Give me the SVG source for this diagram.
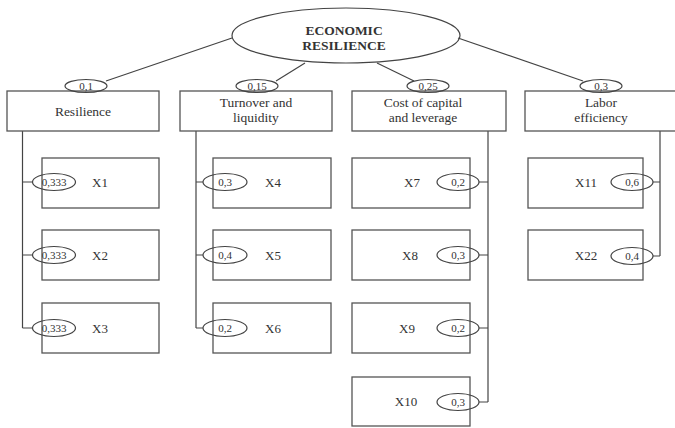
<svg xmlns="http://www.w3.org/2000/svg" width="675" height="428" viewBox="0 0 675 428">
<style>
.b{fill:none;stroke:#555;stroke-width:1.3}
.e{fill:none;stroke:#444;stroke-width:1.2}
.c{fill:none;stroke:#444;stroke-width:1.2}
.t{font-family:"Liberation Serif","Times New Roman",serif;fill:#333;text-anchor:middle}
.h{font-size:13.5px;font-weight:bold}
.n{font-size:13.5px}
.x{font-size:13px}
.w{font-size:11px}
</style>
<rect width="675" height="428" fill="#fff"/>
<g id="connectors">
<line class="c" x1="232" y1="38" x2="106" y2="81"/>
<line class="c" x1="305" y1="63" x2="276" y2="81"/>
<line class="c" x1="377" y1="63" x2="414" y2="81"/>
<line class="c" x1="458" y1="38" x2="583" y2="81"/>
<path class="c" d="M22.5 131V328M22.5 182H32.5M22.5 255H32.5M22.5 328H32.5"/>
<path class="c" d="M196 131V328M196 182H203M196 255H203M196 328H203"/>
<path class="c" d="M488 131V402M479 182H488M479 255H488M479 328H488M479 402H488"/>
<path class="c" d="M660 131V256M653 182H660M653 256H660"/>
</g>
<g id="root">
<ellipse class="e" cx="346" cy="35.5" rx="114" ry="27.5"/>
<text class="t h" x="344" y="34.5">ECONOMIC</text>
<text class="t h" x="344" y="50">RESILIENCE</text>
</g>
<g id="resilience">
<rect class="b" x="7" y="91" width="152" height="40"/>
<ellipse class="e" cx="86" cy="86" rx="21" ry="6.5"/>
<text class="t w" x="86" y="90">0,1</text>
<text class="t n" x="83" y="116">Resilience</text>
</g>
<g id="turnover">
<rect class="b" x="180" y="91" width="152" height="40"/>
<ellipse class="e" cx="257" cy="86" rx="21" ry="6.5"/>
<text class="t w" x="257" y="90">0,15</text>
<text class="t n" x="256" y="107">Turnover and</text>
<text class="t n" x="256" y="122">liquidity</text>
</g>
<g id="capital">
<rect class="b" x="352" y="91" width="154" height="40"/>
<ellipse class="e" cx="428" cy="86" rx="21" ry="6.5"/>
<text class="t w" x="428" y="90">0,25</text>
<text class="t n" x="423" y="107">Cost of capital</text>
<text class="t n" x="423" y="122">and leverage</text>
</g>
<g id="labor">
<rect class="b" x="525" y="91" width="155" height="40"/>
<ellipse class="e" cx="601" cy="86" rx="21" ry="6.5"/>
<text class="t w" x="601" y="90">0,3</text>
<text class="t n" x="601" y="107">Labor</text>
<text class="t n" x="601" y="122">efficiency</text>
</g>
<g id="x1"><rect class="b" x="42" y="158" width="117" height="50"/><ellipse class="e" cx="54" cy="182" rx="21.5" ry="8.5"/><text class="t w" x="54" y="186">0,333</text><text class="t x" x="100" y="187">X1</text></g>
<g id="x2"><rect class="b" x="42" y="230" width="117" height="50"/><ellipse class="e" cx="54" cy="255" rx="21.5" ry="8.5"/><text class="t w" x="54" y="259">0,333</text><text class="t x" x="100" y="260">X2</text></g>
<g id="x3"><rect class="b" x="42" y="303" width="117" height="50"/><ellipse class="e" cx="54" cy="328" rx="21.5" ry="8.5"/><text class="t w" x="54" y="332">0,333</text><text class="t x" x="100" y="333">X3</text></g>
<g id="x4"><rect class="b" x="213" y="158" width="118" height="50"/><ellipse class="e" cx="225" cy="182" rx="22" ry="8.5"/><text class="t w" x="225" y="186">0,3</text><text class="t x" x="273" y="187">X4</text></g>
<g id="x5"><rect class="b" x="213" y="230" width="118" height="50"/><ellipse class="e" cx="225" cy="255" rx="22" ry="8.5"/><text class="t w" x="225" y="259">0,4</text><text class="t x" x="273" y="260">X5</text></g>
<g id="x6"><rect class="b" x="213" y="303" width="118" height="50"/><ellipse class="e" cx="225" cy="328" rx="22" ry="8.5"/><text class="t w" x="225" y="332">0,2</text><text class="t x" x="273" y="333">X6</text></g>
<g id="x7"><rect class="b" x="352" y="158" width="118" height="50"/><ellipse class="e" cx="458" cy="182" rx="21" ry="8.5"/><text class="t w" x="458" y="186">0,2</text><text class="t x" x="412" y="187">X7</text></g>
<g id="x8"><rect class="b" x="352" y="230" width="118" height="50"/><ellipse class="e" cx="458" cy="255" rx="21" ry="8.5"/><text class="t w" x="458" y="259">0,3</text><text class="t x" x="410" y="260">X8</text></g>
<g id="x9"><rect class="b" x="352" y="303" width="118" height="50"/><ellipse class="e" cx="458" cy="328" rx="21" ry="8.5"/><text class="t w" x="458" y="332">0,2</text><text class="t x" x="407" y="333">X9</text></g>
<g id="x10"><rect class="b" x="352" y="377" width="118" height="49"/><ellipse class="e" cx="458" cy="402" rx="21" ry="8.5"/><text class="t w" x="458" y="406">0,3</text><text class="t x" x="406" y="406">X10</text></g>
<g id="x11"><rect class="b" x="528" y="158" width="115" height="50"/><ellipse class="e" cx="632" cy="182" rx="21" ry="8.5"/><text class="t w" x="632" y="186">0,6</text><text class="t x" x="586" y="187">X11</text></g>
<g id="x22"><rect class="b" x="528" y="230" width="115" height="50"/><ellipse class="e" cx="632" cy="256" rx="21" ry="8.5"/><text class="t w" x="632" y="260">0,4</text><text class="t x" x="586" y="260">X22</text></g>
</svg>
